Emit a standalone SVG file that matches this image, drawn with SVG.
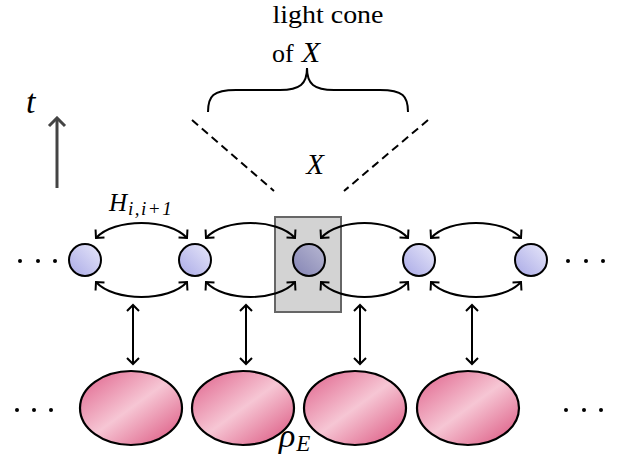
<svg xmlns="http://www.w3.org/2000/svg" width="626" height="464" viewBox="0 0 626 464">
<defs>
<style>
.ln{fill:none;stroke:#000;stroke-width:2}
.arc{fill:none;stroke:#000;stroke-width:2;marker-start:url(#ah);marker-end:url(#ah)}
.dash{fill:none;stroke:#000;stroke-width:2;stroke-dasharray:8 5}
.site{stroke:#000;stroke-width:2;fill:url(#gs)}
.env{stroke:#000;stroke-width:2.2;fill:url(#ge)}
.dot{fill:#000}
</style>
<marker id="ah" viewBox="-8 -8 10 16" markerWidth="10" markerHeight="16" refX="0" refY="0" orient="auto-start-reverse" markerUnits="userSpaceOnUse">
<path d="M-6,-6 L0,0 L-6,6" fill="none" stroke="#000" stroke-width="2"/>
</marker>
<marker id="ahg" viewBox="-10 -10 12 20" markerWidth="12" markerHeight="20" refX="0" refY="0" orient="auto" markerUnits="userSpaceOnUse">
<path d="M-8,-8 L0,0 L-8,8" fill="none" stroke="#444" stroke-width="3"/>
</marker>
<linearGradient id="gs" x1="0" y1="1" x2="1" y2="0">
<stop offset="0" stop-color="#a9a9e6"/>
<stop offset="1" stop-color="#e8e8fa"/>
</linearGradient>
<linearGradient id="gsd" x1="0" y1="1" x2="1" y2="0">
<stop offset="0" stop-color="#8484b4"/>
<stop offset="1" stop-color="#b8b8d2"/>
</linearGradient>
<linearGradient id="ge" x1="0" y1="0" x2="1" y2="1">
<stop offset="0" stop-color="#df5f89"/>
<stop offset="0.5" stop-color="#f6c6d4"/>
<stop offset="1" stop-color="#da4f7b"/>
</linearGradient>
</defs>
<rect width="626" height="464" fill="#fff"/>

<g id="labels" font-family="'Liberation Serif', 'DejaVu Serif', serif" fill="#000">
<text x="328" y="23" font-size="26" text-anchor="middle" textLength="111" lengthAdjust="spacingAndGlyphs">light cone</text>
<text x="272" y="62" font-size="26">of<tspan font-style="italic" font-size="30" dx="8">X</tspan></text>
<text x="315" y="174" font-size="29" font-style="italic" text-anchor="middle">X</text>
<text x="26" y="113" font-size="34" font-style="italic">t</text>
<text x="109" y="211" font-size="25"><tspan font-style="italic">H</tspan><tspan font-style="italic" font-size="19" dx="1" dy="4" letter-spacing="1.5">i,i+1</tspan></text>
<text x="279" y="447" font-size="34"><tspan font-style="italic">ρ</tspan><tspan font-style="italic" font-size="23" dx="1" dy="4">E</tspan></text>
</g>

<g id="lightcone">
<path class="ln" stroke-width="2.5" d="M208,112 C208,96 213,90 236,90 L280,90 C300,90 307,84 307,68 C307,84 314,90 334,90 L380,90 C403,90 408,96 408,112"/>
<path class="dash" d="M192,120 L274,191"/>
<path class="dash" d="M428,120 L344,191"/>
</g>

<g id="time-axis">
<path d="M57,188 L57,118" fill="none" stroke="#444" stroke-width="3" marker-end="url(#ahg)"/>
</g>

<g id="region-X">
<rect x="275" y="217" width="66" height="95" fill="#d3d3d3" stroke="#666" stroke-width="2"/>
</g>

<g id="sites">
<g id="site1"><circle class="site" cx="85" cy="260" r="16"/></g>
<g id="site2"><circle class="site" cx="195" cy="260" r="16"/></g>
<g id="site3"><circle class="site" cx="309" cy="260" r="16" style="fill:url(#gsd)"/></g>
<g id="site4"><circle class="site" cx="419" cy="260" r="16"/></g>
<g id="site5"><circle class="site" cx="531" cy="260" r="16"/></g>
</g>

<g id="environment">
<g id="env1"><ellipse class="env" cx="131" cy="408" rx="51" ry="37"/></g>
<g id="env2"><ellipse class="env" cx="243" cy="408" rx="51" ry="37"/></g>
<g id="env3"><ellipse class="env" cx="355" cy="408" rx="51" ry="37"/></g>
<g id="env4"><ellipse class="env" cx="468" cy="408" rx="51" ry="37"/></g>
</g>

<g id="dots">
<circle class="dot" cx="20" cy="261" r="2"/><circle class="dot" cx="38" cy="261" r="2"/><circle class="dot" cx="55" cy="261" r="2"/>
<circle class="dot" cx="568" cy="261" r="2"/><circle class="dot" cx="586" cy="261" r="2"/><circle class="dot" cx="603" cy="261" r="2"/>
<circle class="dot" cx="17" cy="410" r="2"/><circle class="dot" cx="34" cy="410" r="2"/><circle class="dot" cx="51" cy="410" r="2"/>
<circle class="dot" cx="566" cy="410" r="2"/><circle class="dot" cx="584" cy="410" r="2"/><circle class="dot" cx="601" cy="410" r="2"/>
</g>

<g id="connectors">
<path class="arc" d="M96,238 C114,218 169,218 187,238"/>
<path class="arc" d="M96,282 C114,302 169,302 187,282"/>
<path class="arc" d="M206,238 C224,218 277,218 295,238"/>
<path class="arc" d="M206,282 C224,302 277,302 295,282"/>
<path class="arc" d="M321,238 C339,218 390,218 408,238"/>
<path class="arc" d="M321,282 C339,302 390,302 408,282"/>
<path class="arc" d="M431,238 C449,218 503,218 521,238"/>
<path class="arc" d="M431,282 C449,302 503,302 521,282"/>
<path class="arc" d="M133,305 L133,364"/>
<path class="arc" d="M246,305 L246,364"/>
<path class="arc" d="M360,305 L360,364"/>
<path class="arc" d="M472,305 L472,364"/>
</g>
</svg>
